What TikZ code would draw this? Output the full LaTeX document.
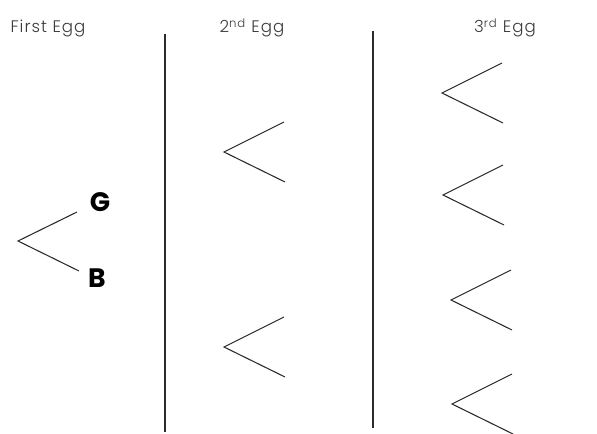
\documentclass[tikz,border=0pt]{standalone}
\usepackage{fontspec}
\setmainfont{Poppins}[UprightFont=*-Light, BoldFont=*-Bold]
\newfontfamily\headfont{Poppins}[UprightFont=*-Light, LetterSpace=6]
\usetikzlibrary{positioning, calc}
\definecolor{eggInk}{HTML}{2B2B2B}
\definecolor{eggText}{HTML}{3A3A3A}
\tikzset{
  every picture/.append style = {line width=0.75pt},
  branch/.style  = {eggInk, line width=0.8pt},
  divider/.style = {eggInk, line width=0.9pt},
  head/.style    = {font=\headfont\fontsize{12.5}{14}\selectfont, eggText, inner sep=0pt},
  sex/.style     = {font=\fontsize{20}{22}\selectfont\bfseries, black, inner sep=0pt},
}
\begin{document}
\begin{tikzpicture}[x=0.75pt,y=-0.75pt]
  \useasboundingbox (0,0) rectangle (597,434);
  % --- column headings ----------------------------------------------------
  \node[head, anchor=base west] (egg1) at (10,33) {First Egg};
  \node[head, anchor=base] (egg2) at (252,33) {2\textsuperscript{nd} Egg};
  \node[head, anchor=base] (egg3) at (505,33) {3\textsuperscript{rd} Egg};
  % --- dividers -----------------------------------------------------------
  \coordinate (d1top) at (165,34);  \coordinate (d1bot) at (165,432);
  \coordinate (d2top) at (373,31);  \coordinate (d2bot) at (373,428);
  \draw[divider] (d1top) -- (d1bot);
  \draw[divider] (d2top) -- (d2bot);
  % --- first egg ----------------------------------------------------------
  \coordinate (f0) at (18,241);
  \node[sex] (G) at (100,202) {G};
  \node[sex] (B) at (97,278) {B};
  \coordinate (fG) at (77,212);
  \coordinate (fB) at (79,271);
  \draw[branch] (fG) -- (f0) -- (fB);
  % --- second and third egg forks ----------------------------------------
  \foreach \n/\x/\y in {a/224/152, b/224/347, c/442/93, d/443/195, e/451/300, f/452/404} {
    \coordinate (v\n) at (\x,\y);
    \coordinate (u\n) at ($(v\n)+(60,-30)$);
    \coordinate (l\n) at ($(v\n)+(61,30)$);
    \draw[branch] (u\n) -- (v\n) -- (l\n);
  }
\end{tikzpicture}
\end{document}
